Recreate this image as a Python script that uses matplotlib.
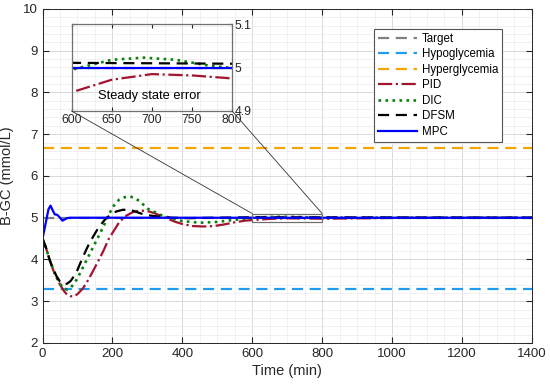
import numpy as np
import matplotlib
matplotlib.use('Agg')
import matplotlib.pyplot as plt
from matplotlib.patches import Rectangle, ConnectionPatch
from matplotlib.ticker import MultipleLocator

plt.rcParams['font.family'] = ['Liberation Sans', 'DejaVu Sans']

# reference levels (mmol/L)
target = 5.0
hypo = 3.3
hyper = 6.67
t_span = [0, 1400]

# MPC
t_mpc = [0, 5, 11, 17, 23, 29, 35, 42, 50, 57, 64, 70, 80, 100, 600, 800, 1400]
y_mpc = [4.5, 4.7, 4.95, 5.2, 5.29, 5.18, 5.08, 5.07, 5.0, 4.93, 4.96, 4.99, 5.0, 5.0, 4.999, 4.999, 5.0]

# DFSM
t_dfsm = [0, 10, 20, 30, 40, 50, 60, 70, 80, 90, 100, 115, 130, 145, 160, 178, 195, 211,
          230, 249, 265, 278, 300, 330, 370, 420, 500, 600, 700, 800, 1400]
y_dfsm = [4.5, 4.28, 4.0, 3.78, 3.6, 3.47, 3.40, 3.42, 3.48, 3.6, 3.75, 4.05, 4.32, 4.55, 4.76, 4.95, 5.08, 5.15,
          5.19, 5.19, 5.15, 5.11, 5.06, 5.03, 5.0, 4.99, 5.0, 5.011, 5.01, 5.009, 5.0]

# DIC
t_dic = [0, 10, 20, 30, 40, 50, 60, 70, 80, 90, 100, 115, 130, 145, 160, 175, 190, 205, 220, 235,
         250, 265, 280, 300, 320, 340, 370, 400, 450, 500, 550, 600, 650, 690, 730, 770, 800, 900, 1000, 1400]
y_dic = [4.5, 4.28, 4.0, 3.78, 3.58, 3.42, 3.31, 3.28, 3.32, 3.42, 3.55, 3.8, 4.05, 4.3, 4.55, 4.8, 5.08, 5.3, 5.44, 5.49,
         5.51, 5.47, 5.38, 5.22, 5.14, 5.06, 4.98, 4.92, 4.88, 4.9, 4.95, 4.995, 5.018, 5.023, 5.018, 5.005, 4.999, 5.0, 5.0, 5.0]

# PID
t_pid = [0, 10, 20, 30, 40, 50, 60, 70, 80, 90, 100, 115, 130, 145, 160, 175, 190, 205, 220, 240, 260,
         280, 300, 320, 340, 360, 380, 400, 430, 460, 490, 520, 550, 580, 600, 650, 700, 750, 800, 900, 1000, 1400]
y_pid = [4.5, 4.28, 4.0, 3.76, 3.56, 3.4, 3.26, 3.16, 3.12, 3.12, 3.17, 3.3, 3.5, 3.73, 3.97, 4.22, 4.5, 4.7, 4.9, 5.05, 5.14,
         5.17, 5.16, 5.11, 5.04, 4.97, 4.9, 4.85, 4.8, 4.79, 4.8, 4.84, 4.89, 4.93, 4.943, 4.972, 4.985, 4.982, 4.975, 4.985, 4.995, 5.0]

c_axis = '#262626'
c_target = '#808080'
c_hypo = '#1f9bef'
c_hyper = '#f5a500'
c_pid = '#a2142f'
c_dic = '#0a800a'
c_dfsm = 'black'
c_mpc = '#0000ff'


def draw_lines(ax, lw=1.6):
    ax.plot(t_span, [target, target], '--', color=c_target, lw=lw, dashes=(5, 3), label='Target')
    ax.plot(t_span, [hypo, hypo], '--', color=c_hypo, lw=lw, dashes=(5, 3), label='Hypoglycemia')
    ax.plot(t_span, [hyper, hyper], '--', color=c_hyper, lw=lw, dashes=(5, 3), label='Hyperglycemia')
    ax.plot(t_pid, y_pid, '-.', color=c_pid, lw=lw, label='PID')
    ax.plot(t_dic, y_dic, ':', color=c_dic, lw=lw + 0.3, label='DIC')
    ax.plot(t_dfsm, y_dfsm, '--', color=c_dfsm, lw=lw, dashes=(5, 3), label='DFSM')
    ax.plot(t_mpc, y_mpc, '-', color=c_mpc, lw=lw, label='MPC')


fig = plt.figure(figsize=(5.5, 3.88), dpi=100)
ax = fig.add_axes([0.0773, 0.116, 0.8897, 0.861])
draw_lines(ax)

ax.set_xlim(0, 1400)
ax.set_ylim(2, 10)
ax.xaxis.set_major_locator(MultipleLocator(200))
ax.xaxis.set_minor_locator(MultipleLocator(50))
ax.yaxis.set_major_locator(MultipleLocator(1))
ax.yaxis.set_minor_locator(MultipleLocator(0.2))
ax.grid(True, which='major', color='#d9d9d9', lw=0.7)
ax.grid(True, which='minor', color='#ececec', lw=0.5)
ax.set_axisbelow(True)
ax.tick_params(which='both', direction='in', top=True, right=True, colors=c_axis, labelsize=9.5)
ax.tick_params(which='minor', length=0)
ax.tick_params(which='major', length=4)
for s in ax.spines.values():
    s.set_color(c_axis)
    s.set_linewidth(0.7)
ax.set_xlabel('Time (min)', fontsize=10.5, color=c_axis, labelpad=3)
ax.set_ylabel('B-GC (mmol/L)', fontsize=10.5, color=c_axis, labelpad=6)

leg = ax.legend(loc='upper right', bbox_to_anchor=(0.940, 0.940), fontsize=8.3,
                fancybox=False, framealpha=1, edgecolor='#555555',
                handlelength=3.4, labelspacing=0.3, borderpad=0.35, handletextpad=0.4,
                borderaxespad=0)
leg.get_frame().set_linewidth(0.8)

# zoom rectangle on main axes
ax.add_patch(Rectangle((600, 4.9), 200, 0.2, fill=False, edgecolor='#707070', lw=0.9, zorder=5))

# inset
axins = fig.add_axes([0.130, 0.714, 0.292, 0.2235])
axins.patch.set_alpha(0)
draw_lines(axins, lw=1.6)
axins.set_xlim(600, 800)
axins.set_ylim(4.9, 5.1)
axins.set_xticks([600, 650, 700, 750, 800])
axins.set_yticks([4.9, 5.0, 5.1])
axins.set_yticklabels(['4.9', '5', '5.1'])
axins.yaxis.tick_right()
axins.tick_params(direction='in', top=True, left=True, right=True, colors=c_axis,
                  labelsize=8.8, length=3, pad=2)
for s in axins.spines.values():
    s.set_color('#707070')
    s.set_linewidth(0.9)
axins.text(697, 4.935, 'Steady state error', fontsize=9.3, color='black',
           ha='center', va='center')

con1 = ConnectionPatch(xyA=(600, 4.9), coordsA=axins.transData,
                       xyB=(600, 5.1), coordsB=ax.transData, color='#333333', lw=0.6)
con2 = ConnectionPatch(xyA=(800, 4.9), coordsA=axins.transData,
                       xyB=(800, 5.1), coordsB=ax.transData, color='#333333', lw=0.6)
fig.add_artist(con1)
fig.add_artist(con2)

fig.savefig('out.png', dpi=100)
